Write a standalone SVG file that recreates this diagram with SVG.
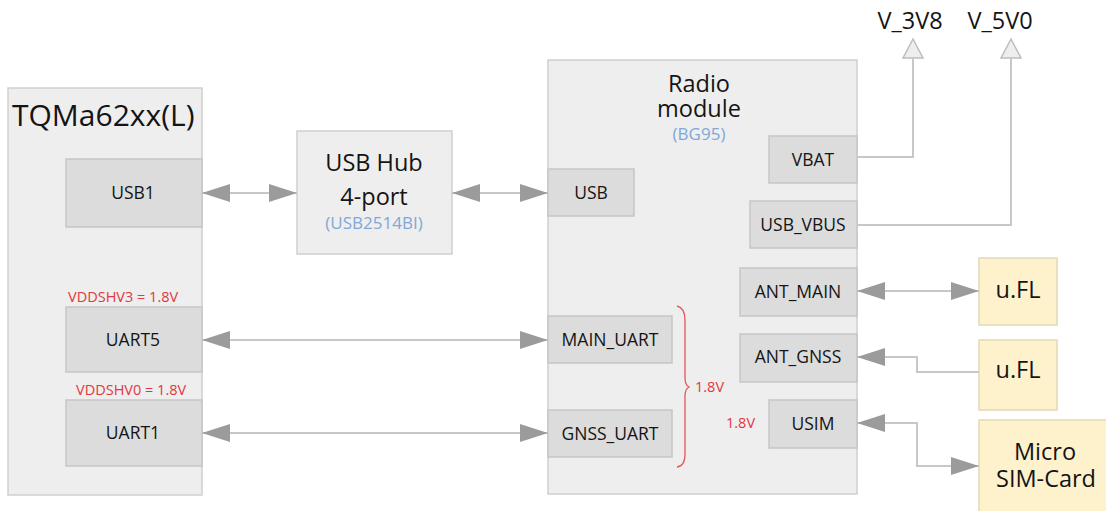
<svg xmlns="http://www.w3.org/2000/svg" width="1106" height="511" viewBox="0 0 1106 511">
<defs>
<style>
text{font-family:"Open Sans","Liberation Sans",sans-serif;fill:#141414}
.big{fill:#eeeeee;stroke:#cfcfcf;stroke-width:1.5}
.pin{fill:#dcdcdc;stroke:#c6c6c6;stroke-width:1.5}
.yel{fill:#fdf2cc;stroke:#e2d9b6;stroke-width:1.5}
.pt{font-size:17.5px;text-anchor:middle}
.lg{font-size:23.5px;text-anchor:middle}
.red{fill:#e0393e;font-size:14.5px}
.blue{fill:#7fa8d8;text-anchor:middle;font-size:17px}
.ln{fill:none;stroke:#c8c8c8;stroke-width:2}
.tri{fill:#eeeeee;stroke:#bdbdbd;stroke-width:1.5}
</style>
<marker id="ah" viewBox="0 0 28 18" refX="28" refY="9" markerWidth="28" markerHeight="18" markerUnits="userSpaceOnUse" orient="auto-start-reverse">
<path d="M0,0 L28,9 L0,18 Z" fill="#9b9b9b"/>
</marker>
</defs>
<rect width="1106" height="511" fill="#ffffff"/>

<g id="tqma">
<rect class="big" x="8" y="88" width="194" height="407"/>
<text x="12" y="126" font-size="30">TQMa62xx(L)</text>
</g>
<g id="usb1">
<rect class="pin" x="66" y="159" width="136" height="68"/>
<text class="pt" x="133" y="199">USB1</text>
</g>
<g id="uart5">
<text class="red" x="68" y="302">VDDSHV3 = 1.8V</text>
<rect class="pin" x="66" y="307" width="136" height="65"/>
<text class="pt" x="133" y="346">UART5</text>
</g>
<g id="uart1">
<text class="red" x="76" y="395">VDDSHV0 = 1.8V</text>
<rect class="pin" x="66" y="400" width="136" height="66"/>
<text class="pt" x="133" y="439">UART1</text>
</g>

<g id="usbhub">
<rect class="big" x="297" y="131" width="155" height="123"/>
<text class="lg" x="374" y="171">USB Hub</text>
<text class="lg" x="374" y="205">4-port</text>
<text class="blue" x="374" y="229">(USB2514BI)</text>
</g>

<g id="radio">
<rect class="big" x="548" y="60" width="309" height="434"/>
<text class="lg" x="699" y="92">Radio</text>
<text class="lg" x="699" y="117">module</text>
<text class="blue" x="699" y="140">(BG95)</text>
</g>
<g id="vbat">
<rect class="pin" x="769" y="136" width="88" height="47"/>
<text class="pt" x="813" y="166">VBAT</text>
</g>
<g id="usb">
<rect class="pin" x="548" y="169" width="86" height="47"/>
<text class="pt" x="591" y="199">USB</text>
</g>
<g id="usbvbus">
<rect class="pin" x="750" y="201" width="107" height="47"/>
<text class="pt" x="803" y="231">USB_VBUS</text>
</g>
<g id="antmain">
<rect class="pin" x="740" y="268" width="117" height="48"/>
<text class="pt" x="798" y="298">ANT_MAIN</text>
</g>
<g id="antgnss">
<rect class="pin" x="740" y="334" width="117" height="48"/>
<text class="pt" x="798" y="363">ANT_GNSS</text>
</g>
<g id="mainuart">
<rect class="pin" x="548" y="316" width="124" height="47"/>
<text class="pt" x="610" y="346">MAIN_UART</text>
</g>
<g id="gnssuart">
<rect class="pin" x="548" y="410" width="124" height="47"/>
<text class="pt" x="610" y="440">GNSS_UART</text>
</g>
<g id="usim">
<text class="red" x="726" y="428">1.8V</text>
<rect class="pin" x="769" y="400" width="88" height="48"/>
<text class="pt" x="813" y="430">USIM</text>
</g>
<g id="brace">
<path d="M677,306 Q685,308 685,320 L685,378 Q685,385 689,387 Q685,389 685,396 L685,454 Q685,466 677,467" fill="none" stroke="#e8555a" stroke-width="1.3"/>
<text class="red" x="695" y="392">1.8V</text>
</g>

<g id="ufl1">
<rect class="yel" x="979" y="258" width="78" height="67"/>
<text class="lg" x="1018" y="298" font-size="25">u.FL</text>
</g>
<g id="ufl2">
<rect class="yel" x="979" y="340" width="78" height="70"/>
<text class="lg" x="1018" y="378" font-size="25">u.FL</text>
</g>
<g id="microsim">
<rect class="yel" x="979" y="420" width="135" height="100"/>
<text class="lg" x="1045" y="460">Micro</text>
<text class="lg" x="1046" y="487">SIM-Card</text>
</g>

<g id="v3v8">
<text class="lg" x="910" y="29">V_3V8</text>
<path class="tri" d="M913,39 L923,58 L903,58 Z"/>
</g>
<g id="v5v0">
<text class="lg" x="1000" y="29">V_5V0</text>
<path class="tri" d="M1011,39 L1021,58 L1001,58 Z"/>
</g>

<g id="connectors">
<line class="ln" x1="202" y1="193" x2="297" y2="193" marker-start="url(#ah)" marker-end="url(#ah)"/>
<line class="ln" x1="452" y1="193" x2="548" y2="193" marker-start="url(#ah)" marker-end="url(#ah)"/>
<line class="ln" x1="202" y1="340" x2="548" y2="340" marker-start="url(#ah)" marker-end="url(#ah)"/>
<line class="ln" x1="202" y1="433" x2="548" y2="433" marker-start="url(#ah)" marker-end="url(#ah)"/>
<polyline class="ln" points="857,157 913,157 913,58"/>
<polyline class="ln" points="857,225 1011,225 1011,58"/>
<line class="ln" x1="857" y1="291" x2="979" y2="291" marker-start="url(#ah)" marker-end="url(#ah)"/>
<polyline class="ln" points="857,357 917,357 917,372 979,372" marker-start="url(#ah)"/>
<polyline class="ln" points="857,423 917,423 917,466 979,466" marker-start="url(#ah)" marker-end="url(#ah)"/>
</g>
</svg>
